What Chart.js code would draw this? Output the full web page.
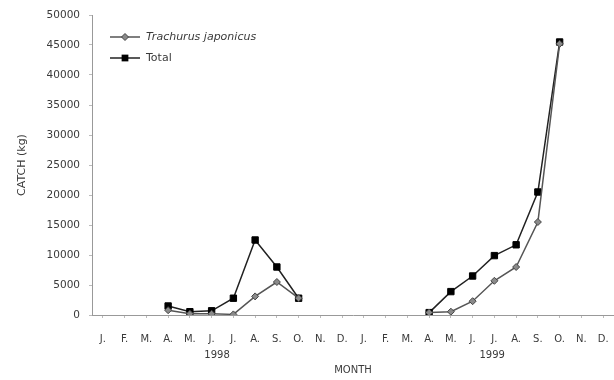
<!DOCTYPE html>
<html>
<head>
<meta charset="utf-8">
<script src="https://cdn.jsdelivr.net/npm/chart.js@4"></script>
<style>
  html, body { margin: 0; padding: 0; background: #fff; overflow: hidden; }
  #wrap { width: 614px; height: 380px; position: relative; }
  canvas { display: block; }
</style>
</head>
<body>
<div id="wrap"><canvas id="c" width="614" height="380"></canvas></div>
<script>
// Monthly catch, two fishing seasons (Jan 1998 – Dec 1999)
const months = ["J.", "F.", "M.", "A.", "M.", "J.", "J.", "A.", "S.", "O.", "N.", "D.",
                "J.", "F.", "M.", "A.", "M.", "J.", "J.", "A.", "S.", "O.", "N.", "D."];
const years = ["1998", "1999"];
const trachurus = [null, null, null, 800, 200, 200, 100, 3100, 5500, 2800, null, null,
                   null, null, null, 400, 550, 2300, 5700, 8000, 15500, 45200, null, null];
const total = [null, null, null, 1500, 550, 700, 2800, 12500, 8000, 2800, null, null,
               null, null, null, 400, 3900, 6500, 9900, 11700, 20500, 45500, null, null];
const yTicks = [0, 5000, 10000, 15000, 20000, 25000, 30000, 35000, 40000, 45000, 50000];

const FONT = "'DejaVu Sans', sans-serif";
const TEXT = "#3a3a3a";
const noPadding = () => ({ left: 0, right: 0, top: 0, bottom: 0 });

// Year captions under each block of twelve months, plus the inset legend
const extras = {
  id: "extras",
  afterDraw(chart) {
    const ctx = chart.ctx;
    const x = chart.scales.x;
    const captionAt = [5.25, 17.9];
    ctx.save();
    ctx.fillStyle = TEXT;
    ctx.font = "10px " + FONT;
    ctx.textAlign = "center";
    ctx.textBaseline = "middle";
    years.forEach((yr, i) => {
      ctx.fillText(yr, x.getPixelForValue(captionAt[i]), 355);
    });

    // legend
    const rows = [
      { ds: chart.data.datasets[0], y: 37, italic: true },
      { ds: chart.data.datasets[1], y: 58, italic: false }
    ];
    rows.forEach(r => {
      ctx.strokeStyle = r.ds.borderColor;
      ctx.lineWidth = r.ds.borderWidth;
      ctx.beginPath();
      ctx.moveTo(110, r.y);
      ctx.lineTo(140, r.y);
      ctx.stroke();
      ctx.fillStyle = r.ds.pointBackgroundColor;
      ctx.strokeStyle = r.ds.pointBorderColor;
      ctx.lineWidth = 1;
      const s = r.ds.pointRadius;
      if (r.ds.pointStyle === "rectRot") {
        ctx.beginPath();
        ctx.moveTo(125, r.y - s); ctx.lineTo(125 + s, r.y);
        ctx.lineTo(125, r.y + s); ctx.lineTo(125 - s, r.y);
        ctx.closePath(); ctx.fill(); ctx.stroke();
      } else {
        ctx.fillRect(125 - s * 0.75, r.y - s * 0.75, s * 1.5, s * 1.5);
      }
      ctx.fillStyle = TEXT;
      ctx.textAlign = "left";
      ctx.font = (r.italic ? "italic " : "") + "11px " + FONT;
      ctx.fillText(r.ds.label, 146, r.y);
    });
    ctx.restore();
  }
};

new Chart(document.getElementById("c"), {
  type: "line",
  data: {
    labels: months,
    datasets: [
      {
        label: "Trachurus japonicus",
        data: trachurus,
        borderColor: "#555",
        borderWidth: 1.5,
        pointStyle: "rectRot",
        pointRadius: 3.5,
        pointBackgroundColor: "#8a8a8a",
        pointBorderColor: "#444",
        pointBorderWidth: 1,
        spanGaps: false,
        tension: 0
      },
      {
        label: "Total",
        data: total,
        borderColor: "#222",
        borderWidth: 1.5,
        pointStyle: "rect",
        pointRadius: 4.5,
        pointBackgroundColor: "#000",
        pointBorderColor: "#000",
        pointBorderWidth: 1,
        spanGaps: false,
        tension: 0
      }
    ]
  },
  options: {
    responsive: false,
    animation: false,
    layout: { autoPadding: false, padding: { top: 15, right: -3, left: 12, bottom: 0 } },
    plugins: { legend: { display: false }, tooltip: { enabled: false } },
    scales: {
      x: {
        offset: true,
        grid: { display: true, drawOnChartArea: false, drawTicks: true, tickLength: 3, color: "#bbb" },
        border: { display: true, color: "#999", width: 1 },
        ticks: { color: TEXT, font: { family: FONT, size: 10 }, maxRotation: 0, autoSkip: false, padding: 15 },
        title: { display: true, text: "MONTH", color: TEXT, font: { family: FONT, size: 10 }, padding: { top: 16 } },
        afterFit(s) { s.height = 65; s.getPadding = noPadding; }
      },
      y: {
        min: 0, max: 50000,
        afterBuildTicks(s) { s.ticks = yTicks.map(v => ({ value: v })); },
        grid: { display: true, drawOnChartArea: false, tickLength: 3, color: "#bbb" },
        border: { display: true, color: "#999", width: 1 },
        ticks: { color: TEXT, font: { family: FONT, size: 10.5 }, padding: 9, callback: v => String(v) },
        title: { display: true, text: "CATCH (kg)", color: TEXT, font: { family: FONT, size: 11 }, padding: { bottom: 6 } },
        afterFit(s) { s.width = 80; s.getPadding = noPadding; }
      }
    }
  },
  plugins: [extras]
});
</script>
</body>
</html>
